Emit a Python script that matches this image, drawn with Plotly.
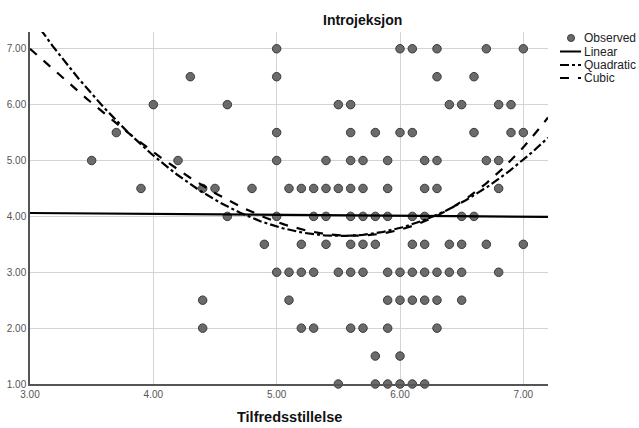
import numpy as np
import plotly.graph_objects as go

# Observed points grouped by Introjeksjon value (y); x = Tilfredsstillelse
rows = {
    7.0: [5.0, 6.0, 6.1, 6.3, 6.7, 7.0],
    6.5: [4.3, 5.0, 6.3, 6.6],
    6.0: [4.0, 4.6, 5.5, 5.6, 6.4, 6.5, 6.8, 6.9],
    5.5: [3.7, 5.0, 5.6, 5.8, 6.0, 6.1, 6.6, 6.9, 7.0],
    5.0: [3.5, 4.2, 5.0, 5.4, 5.6, 5.7, 5.9, 6.2, 6.3, 6.7, 6.8],
    4.5: [3.9, 4.4, 4.5, 4.8, 5.1, 5.2, 5.3, 5.4, 5.5, 5.6, 5.7, 5.9, 6.2, 6.3, 6.8],
    4.0: [4.6, 5.0, 5.3, 5.4, 5.6, 5.7, 5.8, 5.9, 6.1, 6.2, 6.5, 6.6],
    3.5: [4.9, 5.2, 5.4, 5.6, 5.7, 5.8, 6.1, 6.2, 6.4, 6.5, 6.7, 7.0],
    3.0: [5.0, 5.1, 5.2, 5.3, 5.5, 5.6, 5.7, 5.9, 6.0, 6.1, 6.2, 6.3, 6.4, 6.5, 6.8],
    2.5: [4.4, 5.1, 5.9, 6.0, 6.1, 6.2, 6.3, 6.5],
    2.0: [4.4, 5.2, 5.3, 5.6, 5.7, 5.9, 6.3],
    1.5: [5.8, 6.0],
    1.0: [5.5, 5.8, 5.9, 6.0, 6.1, 6.2],
}
obs_x = [x for yv, xs in rows.items() for x in xs]
obs_y = [yv for yv, xs in rows.items() for x in xs]

# Fitted curve coefficients, polynomial in t = x - 5,
# lowest order first
linear_coef = [4.027, -0.0167]
quadratic_coef = [3.818, -0.648, 0.623]
cubic_coef = [3.9008, -0.7795, 0.5543, 0.08464]
x_center = 5.0

x_ticks = [3, 4, 5, 6, 7]
y_ticks = [1, 2, 3, 4, 5, 6, 7]

xs = np.linspace(3.0, 7.2, 300)
t = xs - x_center
def poly(c):
    return sum(ci * t ** i for i, ci in enumerate(c))

fig = go.Figure()
fig.add_trace(go.Scatter(
    x=obs_x, y=obs_y, mode="markers", name="Observed", cliponaxis=False,
    marker=dict(size=8.5, color="#6b6b6b", line=dict(color="#3a3a3a", width=1)),
))
curves = [("Linear", linear_coef, "solid"),
          ("Quadratic", quadratic_coef, "dashdot"),
          ("Cubic", cubic_coef, "dash")]
for name, c, dash in curves:
    fig.add_trace(go.Scatter(
        x=xs, y=poly(c), mode="lines", name=name,
        line=dict(color="black", width=2.2, dash=dash),
    ))

W, H = 639, 428
L, R, T, B = 30, 91, 32, 44
pw, ph = W - L - R, H - T - B
def px(xp):
    return (xp - L) / pw
def py(yp):
    return (H - B - yp) / ph

# custom compact legend (like the reference)
shapes = []
annotations = []
leg_rows = [38, 51.5, 65, 78]
leg_names = ["Observed", "Linear", "Quadratic", "Cubic"]
for i, (yy, nm) in enumerate(zip(leg_rows, leg_names)):
    annotations.append(dict(text=nm, x=px(582), y=py(yy), xref="paper", yref="paper",
                            xanchor="left", yanchor="middle", showarrow=False,
                            font=dict(size=12, color="#222", family="Liberation Sans")))
shapes.append(dict(type="circle", xref="paper", yref="paper",
                   x0=px(567.5), x1=px(574.5), y0=py(41.5), y1=py(34.5),
                   fillcolor="#6b6b6b", line=dict(color="#3a3a3a", width=1)))
for yy, dash in zip(leg_rows[1:], ["solid", "dashdot", "dash"]):
    shapes.append(dict(type="line", xref="paper", yref="paper",
                       x0=px(560), x1=px(581), y0=py(yy), y1=py(yy),
                       line=dict(color="black", width=2, dash=dash)))

annotations.append(dict(text="<b>Introjeksjon</b>", x=px(362), y=py(20), xref="paper", yref="paper",
                        yanchor="middle", showarrow=False, font=dict(size=14, color="#111")))
annotations.append(dict(text="<b>Tilfredsstillelse</b>", x=px(289), y=py(417), xref="paper",
                        yref="paper", yanchor="middle", showarrow=False,
                        font=dict(size=14.5, color="#111")))

fig.update_layout(
    width=W, height=H,
    margin=dict(l=L, r=R, t=T, b=B, autoexpand=False),
    paper_bgcolor="white", plot_bgcolor="white",
    font=dict(family="Liberation Sans", color="#333"),
    showlegend=False,
    shapes=shapes, annotations=annotations,
)

fig.update_xaxes(range=[3, 7.2], tickvals=x_ticks, ticktext=[f"{v:.2f}" for v in x_ticks],
                 showgrid=True, gridcolor="#d4d4d4", gridwidth=1,
                 showline=True, linecolor="#555", linewidth=1.5, zeroline=False,
                 ticks="", tickfont=dict(size=10, color="#555"))
fig.update_yaxes(range=[1, 7.3], tickvals=y_ticks, ticktext=[f"{v:.2f}" for v in y_ticks],
                 showgrid=True, gridcolor="#d4d4d4", gridwidth=1,
                 showline=True, linecolor="#555", linewidth=1.5, zeroline=False,
                 ticks="", tickfont=dict(size=10, color="#555"))

fig.write_html("out.html")
